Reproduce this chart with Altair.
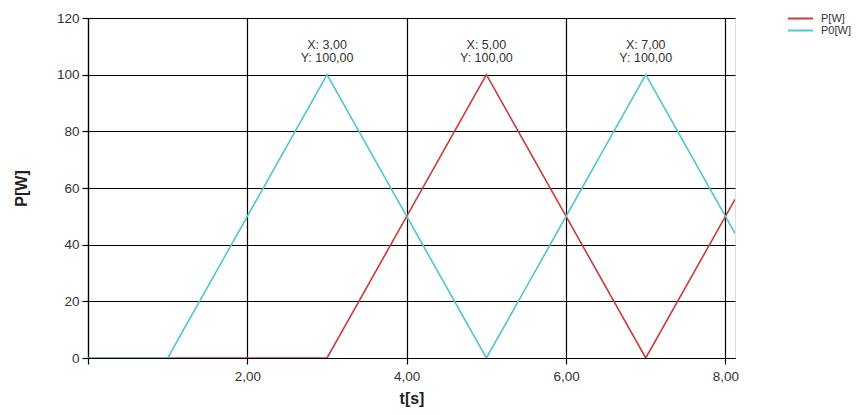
import altair as alt
import pandas as pd

# data
t_p = [0.0, 3.0, 5.0, 7.0, 8.12]
v_p = [0, 0, 100, 0, 56]
t_p0 = [0.0, 1.0, 3.0, 5.0, 7.0, 8.12]
v_p0 = [0, 0, 100, 0, 100, 44]
series_names = ["P[W]", "P0[W]"]
series_colors = ["#cc3b3b", "#4fc6cf"]
ann_x = [3.0, 5.0, 7.0]
ann_y = [100.0, 100.0, 100.0]
x_ticks = [0, 2, 4, 6, 8]
y_ticks = [0, 20, 40, 60, 80, 100, 120]

rows = [{"t": t, "v": v, "s": series_names[0], "o": i} for i, (t, v) in enumerate(zip(t_p, v_p))]
rows += [{"t": t, "v": v, "s": series_names[1], "o": i} for i, (t, v) in enumerate(zip(t_p0, v_p0))]
df = pd.DataFrame(rows)
ann = pd.DataFrame({"x": ann_x, "y": ann_y})
ann["l1"] = ["X: " + f"{x:.2f}".replace(".", ",") for x in ann_x]
ann["l2"] = ["Y: " + f"{y:.2f}".replace(".", ",") for y in ann_y]

FONT = "Liberation Sans"

xscale = alt.Scale(domain=[0, 8.12], nice=False, zero=False)
yscale = alt.Scale(domain=[0, 120], nice=False)

xaxis = alt.Axis(values=x_ticks, title="t[s]", grid=True, gridColor="black", gridOpacity=1,
                 gridWidth=1.2, domainColor="black", domainWidth=1.2, tickColor="black",
                 tickSize=6, tickWidth=1.2, labelFontSize=13.5, labelFont=FONT, labelColor="#333",
                 labelPadding=5,
                 labelExpr="datum.value == 0 ? '' : replace(format(datum.value, '.2f'), '.', ',')",
                 titleFont=FONT, titleFontSize=16, titleFontWeight="bold", titleColor="#222",
                 titlePadding=8)
yaxis = alt.Axis(values=y_ticks, title="P[W]", grid=True, gridColor="black", gridOpacity=1,
                 gridWidth=1.2, domainColor="black", domainWidth=1.2, tickColor="black",
                 tickSize=6, tickWidth=1.2, labelFontSize=13.5, labelFont=FONT, labelColor="#333",
                 labelPadding=3, format="d",
                 titleFont=FONT, titleFontSize=16, titleFontWeight="bold", titleColor="#222",
                 titlePadding=27)

lines = alt.Chart(df).mark_line(strokeWidth=1.6, clip=True).encode(
    x=alt.X("t:Q", scale=xscale, axis=xaxis),
    y=alt.Y("v:Q", scale=yscale, axis=yaxis),
    color=alt.Color("s:N", scale=alt.Scale(domain=series_names, range=series_colors),
                    legend=alt.Legend(title=None, orient="none", legendX=706, legendY=-6,
                                      symbolType="M-2.27,0H2.27", symbolSize=121, symbolStrokeWidth=2,
                                      labelOffset=14, rowPadding=0, padding=0,
                                      labelFont=FONT, labelFontSize=11, labelColor="#333")),
    order="o:Q",
)

t1 = alt.Chart(ann).mark_text(font=FONT, fontSize=12.5, color="#333", dy=-30, baseline="middle").encode(
    x=alt.X("x:Q", scale=xscale), y=alt.Y("y:Q", scale=yscale), text="l1:N")
t2 = alt.Chart(ann).mark_text(font=FONT, fontSize=12.5, color="#333", dy=-17, baseline="middle").encode(
    x=alt.X("x:Q", scale=xscale), y=alt.Y("y:Q", scale=yscale), text="l2:N")

chart = alt.layer(lines, t1, t2).properties(
    width=647, height=340,
    autosize=alt.AutoSizeParams(type="none"),
    padding={"left": 88, "top": 18, "right": 121, "bottom": 57},
).configure_view(stroke=None).configure(background="white")

chart.save("out.html", embed_options={"renderer": "svg", "actions": False})
